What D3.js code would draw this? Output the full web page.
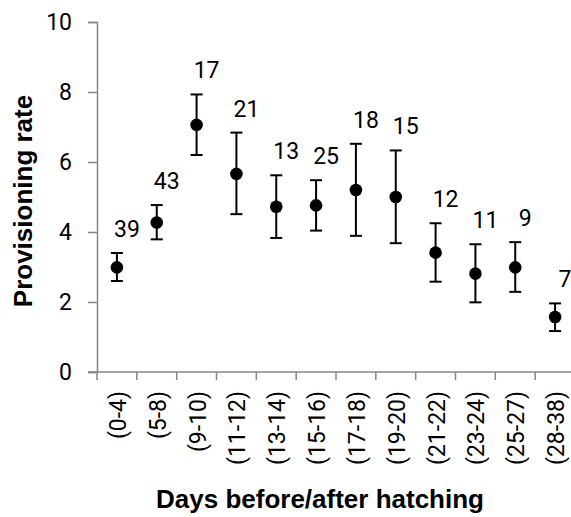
<!DOCTYPE html>
<html>
<head>
<meta charset="utf-8">
<script src="https://cdn.jsdelivr.net/npm/d3@7"></script>
<style>
  body { margin: 0; background: #fff; }
</style>
</head>
<body>
<script>
// categories (days before/after hatching)
const categories = ['(0-4)', '(5-8)', '(9-10)', '(11-12)', '(13-14)', '(15-16)',
  '(17-18)', '(19-20)', '(21-22)', '(23-24)', '(25-27)', '(28-38)'];
// mean provisioning rate
const means = [2.99, 4.27, 7.06, 5.66, 4.72, 4.76, 5.2, 5.0, 3.41, 2.81, 2.99, 1.57];
// upper and lower error bar ends
const upper = [3.4, 4.77, 7.93, 6.84, 5.62, 5.48, 6.52, 6.33, 4.25, 3.65, 3.71, 1.96];
const lower = [2.6, 3.79, 6.2, 4.51, 3.83, 4.04, 3.89, 3.68, 2.58, 1.99, 2.29, 1.17];
// sample sizes shown above each point
const sampleSizes = [39, 43, 17, 21, 13, 25, 18, 15, 12, 11, 9, 7];
const yTicks = [0, 2, 4, 6, 8, 10];

const data = categories.map((c, i) => ({
  cat: c, mean: means[i], hi: upper[i], lo: lower[i], n: sampleSizes[i]
}));

const width = 571, height = 517;
const margin = {top: 22, right: -4, bottom: 145, left: 97};
const numFont = 'Roboto, sans-serif';
const titleFont = '"Liberation Sans Narrow", "Arial Narrow", sans-serif';

const svg = d3.select('body')
  .append('svg')
  .attr('width', width)
  .attr('height', height);

const xScale = d3.scaleBand()
  .domain(categories)
  .range([margin.left, width - margin.right]);

const yScale = d3.scaleLinear()
  .domain([0, 10])
  .range([height - margin.bottom, margin.top]);

// y axis
const yAxis = d3.axisLeft(yScale).tickValues(yTicks).tickSize(9).tickPadding(16);
const gy = svg.append('g')
  .attr('transform', `translate(${margin.left},0)`)
  .call(yAxis);
gy.select('.domain').attr('stroke', '#868686').attr('stroke-width', 1.5);
gy.selectAll('.tick line').attr('stroke', '#868686').attr('stroke-width', 1.5);
gy.selectAll('.tick text')
  .style('font-family', numFont)
  .style('font-size', '23px')
  .attr('fill', '#000');

// x axis: tick marks on band boundaries
const xAxis = d3.axisBottom(xScale).tickSize(0).tickSizeOuter(0);
const gx = svg.append('g')
  .attr('transform', `translate(0,${yScale(0)})`)
  .call(xAxis);
gx.select('.domain').remove();
gx.append('line')
  .attr('x1', margin.left - 9).attr('x2', width)
  .attr('stroke', '#868686').attr('stroke-width', 1.5);
gx.selectAll('.boundary')
  .data(categories)
  .join('line')
  .attr('class', 'boundary')
  .attr('x1', d => xScale(d)).attr('x2', d => xScale(d))
  .attr('y1', 0).attr('y2', 8)
  .attr('stroke', '#868686').attr('stroke-width', 1.5);
gx.selectAll('.tick text')
  .style('font-family', numFont)
  .style('font-size', '23px')
  .attr('fill', '#000')
  .style('text-anchor', 'end')
  .attr('transform', 'rotate(-90)')
  .attr('x', -19)
  .attr('y', 1)
  .attr('dy', '0.35em');

const cx = d => xScale(d.cat) + xScale.bandwidth() / 2;

// error bars
const bars = svg.append('g').attr('stroke', '#000').attr('stroke-width', 2);
bars.selectAll('.stem')
  .data(data)
  .join('line')
  .attr('x1', cx).attr('x2', cx)
  .attr('y1', d => yScale(d.hi)).attr('y2', d => yScale(d.lo));
bars.selectAll('.cap-hi')
  .data(data)
  .join('line')
  .attr('class', 'cap-hi')
  .attr('x1', d => cx(d) - 6).attr('x2', d => cx(d) + 6)
  .attr('y1', d => yScale(d.hi)).attr('y2', d => yScale(d.hi));
bars.selectAll('.cap-lo')
  .data(data)
  .join('line')
  .attr('class', 'cap-lo')
  .attr('x1', d => cx(d) - 6).attr('x2', d => cx(d) + 6)
  .attr('y1', d => yScale(d.lo)).attr('y2', d => yScale(d.lo));

// points
svg.append('g')
  .selectAll('circle')
  .data(data)
  .join('circle')
  .attr('cx', cx)
  .attr('cy', d => yScale(d.mean))
  .attr('r', 6.3)
  .attr('fill', '#000');

// sample size labels
svg.append('g')
  .selectAll('text')
  .data(data)
  .join('text')
  .attr('x', d => cx(d) + 10)
  .attr('y', d => yScale(d.hi) - 16)
  .attr('text-anchor', 'middle')
  .style('font-family', numFont)
  .style('font-size', '23px')
  .text(d => d.n);

// axis titles
svg.append('text')
  .attr('transform', `translate(32,201) rotate(-90)`)
  .attr('text-anchor', 'middle')
  .style('font-family', titleFont)
  .style('font-size', '26px')
  .style('font-weight', 'bold')
  .text('Provisioning rate');

svg.append('text')
  .attr('x', 320)
  .attr('y', 508)
  .attr('text-anchor', 'middle')
  .style('font-family', titleFont)
  .style('font-size', '26px')
  .style('font-weight', 'bold')
  .text('Days before/after hatching');
</script>
</body>
</html>
